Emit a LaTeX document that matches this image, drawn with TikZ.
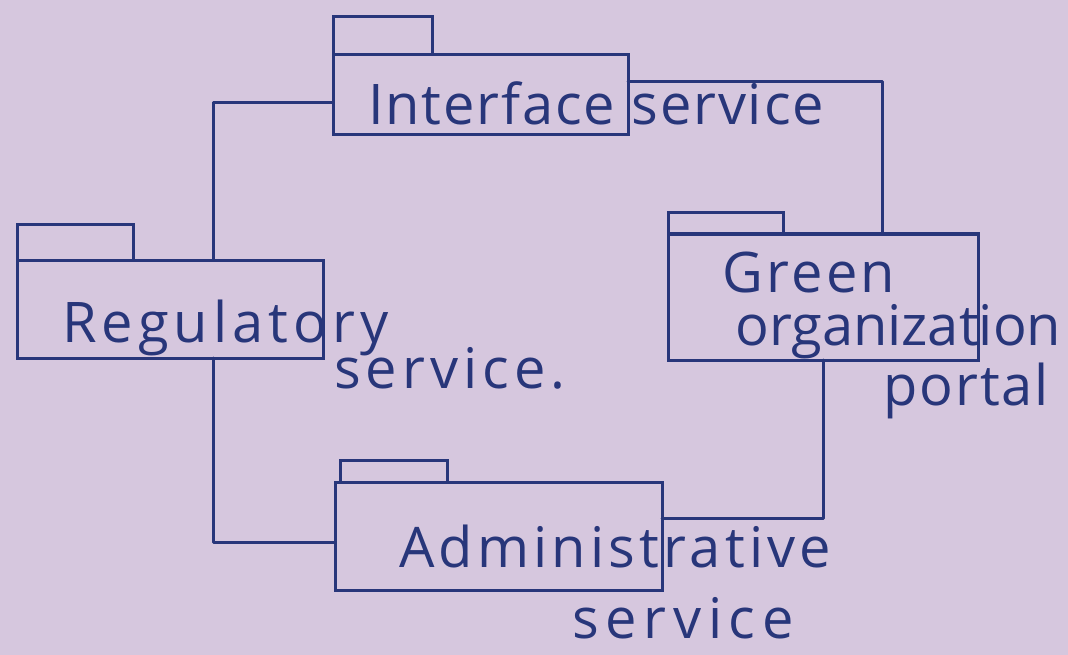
\documentclass[tikz,border=0pt]{standalone}
\usepackage{fontspec}
\setmainfont{Open Sans}
\definecolor{paper}{RGB}{214,199,222}
\definecolor{ink}{RGB}{40,54,122}
\newcommand{\lsp}[2]{{\addfontfeature{LetterSpace=#1}#2}}
\begin{document}
\begin{tikzpicture}[x=1pt,y=-1pt,
  pkgbox/.style={draw=ink, line width=3pt, inner sep=0pt, outer sep=0pt, anchor=north west},
  tabbox/.style={draw=ink, line width=3pt, inner sep=0pt, outer sep=0pt, anchor=south west},
  conn/.style={draw=ink, line width=3pt, line join=round, line cap=round},
  lbl/.style={text=ink, inner sep=0pt, anchor=base west, font=\fontsize{56}{62}\selectfont}]
\useasboundingbox[fill=paper] (0,0) rectangle (1068,655);

% packages
\node[pkgbox, minimum width=295pt, minimum height=80pt] (iface) at (333,55) {};
\node[tabbox, minimum width=99pt, minimum height=38pt] (ifacetab) at (iface.north west) {};

\node[pkgbox, minimum width=306pt, minimum height=98pt] (reg) at (17,260) {};
\node[tabbox, minimum width=116pt, minimum height=35pt] (regtab) at (reg.north west) {};

\node[pkgbox, minimum width=310pt, minimum height=126pt] (green) at (668,234) {};
\node[tabbox, minimum width=115pt, minimum height=21pt] (greentab) at (green.north west) {};

\node[pkgbox, minimum width=327pt, minimum height=108pt] (admin) at (335,482) {};
\node[tabbox, minimum width=107pt, minimum height=22pt] (admintab) at ([xshift=5pt]admin.north west) {};

% connectors
\draw[conn] ([xshift=43pt]reg.north) |- ([yshift=-8pt]iface.west);
\draw[conn] ([yshift=13pt]iface.east) -| ([xshift=59pt]green.north);
\draw[conn] (green.south) |- ([yshift=18pt]admin.east);
\draw[conn] ([xshift=43pt]reg.south) |- ([yshift=-6pt]admin.west);

% labels
\node[lbl] (ifacetxt) at (368,125) {\lsp{3.3}{Interface service}};
\node[lbl] (regtxt1) at (62,342) {\lsp{9}{Regulatory}};
\node[lbl] (regtxt2) at (334,388) {\lsp{9}{service.}};
\node[lbl] (greentxt1) at (722,292) {\lsp{6}{Green}};
\node[lbl] (greentxt2) at (735,345) {organization};
\node[lbl] (greentxt3) at (883,405) {\lsp{3.5}{portal}};
\node[lbl] (admintxt1) at (399,567) {\lsp{7.5}{Administrative}};
\node[lbl] (admintxt2) at (572,638) {\lsp{12}{service}};
\end{tikzpicture}
\end{document}
